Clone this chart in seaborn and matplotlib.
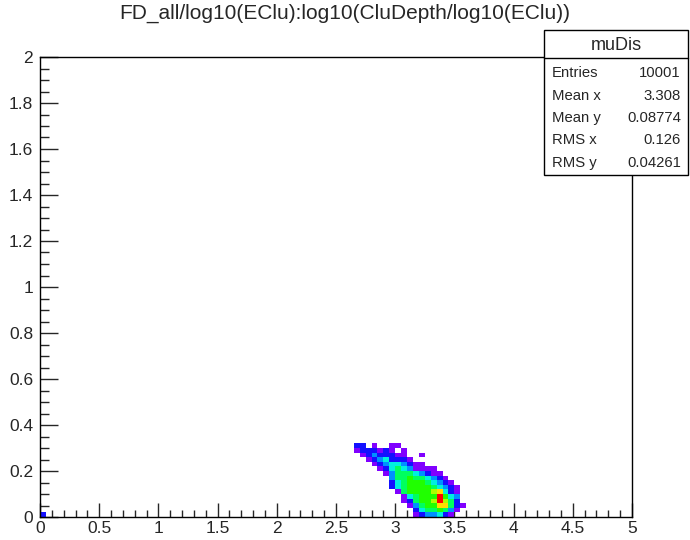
import numpy as np
import pandas as pd
import matplotlib
matplotlib.use("Agg")
import matplotlib.pyplot as plt
import seaborn as sns
from matplotlib.colors import LinearSegmentedColormap
from matplotlib.ticker import MultipleLocator

sns.set_style("white")
plt.rcParams['font.family'] = ['Liberation Sans', 'DejaVu Sans']

# 2D histogram, 100 x 100 bins on [0,5] x [0,2]
X_BIN_W = 0.05
Y_BIN_W = 0.02
FIRST_XBIN = 53   # leftmost column of the grid below
# colour level, rows from y-bin 15 (top) down to y-bin 0
GRID = [
    "22.1..11...........",   # j=15
    "1222121.1..........",   # j=14
    ".12322211..1.......",   # j=13
    "..12342221.........",   # j=12
    "...123443211.......",   # j=11
    "....1245431111.....",   # j=10
    ".....1355543211....",   # j=9
    "......3556554321...",   # j=8
    "......24566654321..",   # j=7
    "......245666654321.",   # j=6
    ".......15666678421.",   # j=5
    "........1456669643.",   # j=4
    "........1256679752.",   # j=3
    ".........1356688521",   # j=2
    "..........24556531.",   # j=1
    "..........1233421..",   # j=0
]
# lone cell at the origin
EXTRA_CELLS = [(0, 0, 2)]

title = "FD_all/log10(EClu):log10(CluDepth/log10(EClu))"
stats_name = "muDis"
stats_labels = ["Entries", "Mean x", "Mean y", "RMS x", "RMS y"]
stats_values = ["10001", "3.308", "0.08774", "0.126", "0.04261"]

rows = []
n_rows = len(GRID)
for r, line in enumerate(GRID):
    j = n_rows - 1 - r
    for c, ch in enumerate(line):
        if ch != ".":
            i = FIRST_XBIN + c
            rows.append(((i + 0.5) * X_BIN_W, (j + 0.5) * Y_BIN_W, int(ch)))
for i, j, v in EXTRA_CELLS:
    rows.append(((i + 0.5) * X_BIN_W, (j + 0.5) * Y_BIN_W, v))
df = pd.DataFrame(rows, columns=["x", "y", "n"])

# colour nodes for levels 0..9 (seaborn starts the scale at 0)
pal_colors = ["#8000ff", "#8000ff", "#1010ff", "#0090ff", "#00f0e0",
              "#00ff60", "#20ff00", "#a8ff00", "#ffe000", "#ff0000"]
root_pal = LinearSegmentedColormap.from_list(
    "root", list(zip(np.linspace(0, 1, len(pal_colors)), pal_colors)))

fig = plt.figure(figsize=(6.9, 5.4), dpi=100)
ax = fig.add_axes([40 / 690, 23 / 540, 592 / 690, 460 / 540])

sns.histplot(data=df, x="x", y="y", weights="n", bins=(100, 100),
             binrange=((0, 5), (0, 2)), cmap=root_pal, ax=ax)

ax.set_xlim(0, 5)
ax.set_ylim(0, 2)
ax.set_xlabel("")
ax.set_ylabel("")
ax.xaxis.set_major_locator(MultipleLocator(0.5))
ax.xaxis.set_minor_locator(MultipleLocator(0.1))
ax.yaxis.set_major_locator(MultipleLocator(0.2))
ax.yaxis.set_minor_locator(MultipleLocator(0.05))
ax.set_xticklabels([f"{v:g}" for v in ax.get_xticks()])
ax.set_yticklabels([f"{v:g}" for v in ax.get_yticks()])
ax.tick_params(axis="x", which="major", direction="in", length=10, width=1,
               labelsize=12.5, pad=3, bottom=True, top=False)
ax.tick_params(axis="x", which="minor", direction="in", length=5, width=1,
               bottom=True, top=False)
ax.tick_params(axis="y", which="major", direction="in", length=13, width=1,
               labelsize=12.5, pad=5, left=True, right=False)
ax.tick_params(axis="y", which="minor", direction="in", length=6.5, width=1,
               left=True, right=False)
for s in ax.spines.values():
    s.set_color("black")
    s.set_linewidth(1)

fig.text(0.5, 1 - 13 / 540, title, ha="center", va="center", fontsize=15)

# stats box
bx0, bx1 = 544 / 690, 688 / 690
by0, by1 = 1 - 175 / 540, 1 - 30 / 540
hdr = 1 - 58 / 540
box = plt.Rectangle((bx0, by0), bx1 - bx0, by1 - by0, transform=fig.transFigure,
                    facecolor="white", edgecolor="black", linewidth=1, zorder=5)
fig.add_artist(box)
fig.add_artist(plt.Line2D([bx0, bx1], [hdr, hdr], transform=fig.transFigure,
                          color="black", linewidth=1, zorder=6))
fig.text((bx0 + bx1) / 2, 1 - 45 / 540, stats_name, ha="center", va="center",
         fontsize=13, zorder=7)
for k, (lab, val) in enumerate(zip(stats_labels, stats_values)):
    yy = 1 - (73 + k * 22.5) / 540
    fig.text(552 / 690, yy, lab, ha="left", va="center", fontsize=10.7, zorder=7)
    fig.text(681 / 690, yy, val, ha="right", va="center", fontsize=10.7, zorder=7)

fig.savefig("out.png", dpi=100)
